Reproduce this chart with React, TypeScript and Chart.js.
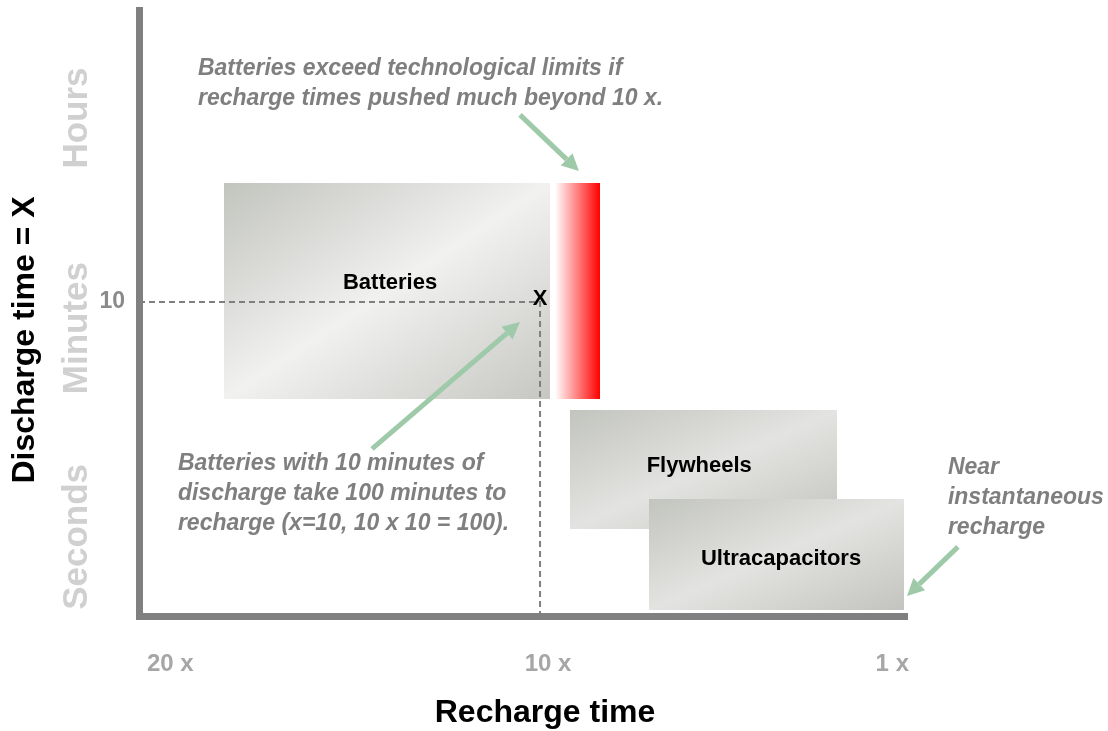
import { useEffect, useRef } from "react";
import { Chart, registerables } from "chart.js";

Chart.register(...registerables);

const FONT = "'Liberation Sans', Arial, Helvetica, sans-serif";

// ---- axes (x = recharge time multiple, shown reversed; y = discharge time position) ----
const xTickValues = [1, 10, 20];
const xTickLabels = ["1 x", "10 x", "20 x"];
const yTickValues = [10];
const yTickLabels = ["10"];
const yBandLabels = ["Hours", "Minutes", "Seconds"];
const yBandValues = [15.86, 9.17, 2.52];

// ---- technology regions ----
const techNames = ["Batteries", "Flywheels", "Ultracapacitors"];
const techRechargeStart = [17.88, 9.25, 7.28];
const techRechargeEnd = [9.75, 2.59, 0.92];
const techDischargeLow = [6.91, 2.77, 0.19];
const techDischargeHigh = [13.79, 6.56, 3.73];
const techLabelX = [13.74, 6.03, 3.99];
const techLabelY = [10.61, 4.78, 1.82];

// ---- battery technological limit band ----
const limitRecharge = [9.73, 8.5];
const limitDischarge = [6.91, 13.79];

// ---- worked example (x = 10) ----
const exampleRecharge = [20, 10, 10];
const exampleDischarge = [10, 10, 0];
const exampleMarkLabel = "X";
const exampleMarkX = 10;
const exampleMarkY = 10.1;

// ---- notes ----
const noteLines = [
  ["Batteries exceed technological limits if", "recharge times pushed much beyond 10 x."],
  ["Batteries with 10 minutes of", "discharge take 100 minutes to", "recharge (x=10, 10 x 10 = 100)."],
  ["Near", "instantaneous", "recharge"],
];
const noteX = [18.53, 19.03, -0.17];
const noteY = [17.42, 4.84, 4.71];

// ---- arrows ----
const arrowFromX = [10.5, 14.19, -0.42];
const arrowFromY = [15.96, 5.32, 2.2];
const arrowToX = [9.03, 10.5, 0.85];
const arrowToY = [14.17, 9.36, 0.64];

const xTitle = "Recharge time";
const yTitle = "Discharge time = X";

// ---- styles ----
const techStops = [
  [[0, "#c2c4be"], [0.5, "#f1f1f0"], [1, "#c6c7c2"]],
  [[0, "#c2c4be"], [0.5, "#e3e3e1"], [1, "#c3c4bf"]],
  [[0, "#c2c4be"], [0.5, "#e3e3e1"], [1, "#c3c4bf"]],
];
const ARROW_COLOR = "#9ecaa9";
const NOTE_COLOR = "#7f7f7f";
const BAND_COLOR = "#d0d0d0";

function diagGradient(ctx: CanvasRenderingContext2D, x0: number, y0: number, x1: number, y1: number, stops: any[]) {
  const w = x1 - x0;
  const h = y1 - y0;
  const cx = (x0 + x1) / 2;
  const cy = (y0 + y1) / 2;
  const k = (w * h) / (w * w + h * h);
  const g = ctx.createLinearGradient(cx - h * k, cy - w * k, cx + h * k, cy + w * k);
  stops.forEach(([o, c]) => g.addColorStop(o, c));
  return g;
}

function drawArrow(ctx: CanvasRenderingContext2D, x0: number, y0: number, x1: number, y1: number) {
  const a = Math.atan2(y1 - y0, x1 - x0);
  const headLen = 17;
  const headW = 8.5;
  const bx = x1 - headLen * Math.cos(a);
  const by = y1 - headLen * Math.sin(a);
  ctx.save();
  ctx.strokeStyle = ARROW_COLOR;
  ctx.fillStyle = ARROW_COLOR;
  ctx.lineWidth = 5;
  ctx.beginPath();
  ctx.moveTo(x0, y0);
  ctx.lineTo(bx, by);
  ctx.stroke();
  ctx.beginPath();
  ctx.moveTo(x1, y1);
  ctx.lineTo(bx + headW * Math.sin(a), by - headW * Math.cos(a));
  ctx.lineTo(bx - headW * Math.sin(a), by + headW * Math.cos(a));
  ctx.closePath();
  ctx.fill();
  ctx.restore();
}

const diagramPlugin = {
  id: "diagram",
  beforeDatasetsDraw(chart: any) {
    const { ctx, scales } = chart;
    const xs = scales.x;
    const ys = scales.y;
    ctx.save();
    techNames.forEach((name, i) => {
      const x0 = Math.round(xs.getPixelForValue(techRechargeStart[i]));
      const x1 = Math.round(xs.getPixelForValue(techRechargeEnd[i]));
      const y0 = Math.round(ys.getPixelForValue(techDischargeHigh[i]));
      const y1 = Math.round(ys.getPixelForValue(techDischargeLow[i]));
      ctx.fillStyle = diagGradient(ctx, x0, y0, x1, y1, techStops[i]);
      ctx.fillRect(x0, y0, x1 - x0, y1 - y0);
      ctx.fillStyle = "#000";
      ctx.font = `bold 22px ${FONT}`;
      ctx.textAlign = "center";
      ctx.textBaseline = "middle";
      ctx.fillText(name, xs.getPixelForValue(techLabelX[i]), ys.getPixelForValue(techLabelY[i]));
      if (i === 0) {
        const lx0 = Math.round(xs.getPixelForValue(limitRecharge[0]));
        const lx1 = Math.round(xs.getPixelForValue(limitRecharge[1]));
        const ly0 = Math.round(ys.getPixelForValue(limitDischarge[1]));
        const ly1 = Math.round(ys.getPixelForValue(limitDischarge[0]));
        const g = ctx.createLinearGradient(lx0, 0, lx1, 0);
        g.addColorStop(0, "#ffffff");
        g.addColorStop(0.08, "#ffffff");
        g.addColorStop(1, "#ff0000");
        ctx.fillStyle = g;
        ctx.fillRect(lx0, ly0, lx1 - lx0, ly1 - ly0);
      }
    });
    ctx.restore();
  },
  afterDatasetsDraw(chart: any) {
    const { ctx, scales, chartArea } = chart;
    const xs = scales.x;
    const ys = scales.y;
    ctx.save();
    // example mark
    ctx.fillStyle = "#000";
    ctx.font = `bold 22px ${FONT}`;
    ctx.textAlign = "center";
    ctx.textBaseline = "middle";
    ctx.fillText(exampleMarkLabel, xs.getPixelForValue(exampleMarkX), ys.getPixelForValue(exampleMarkY));

    // notes
    ctx.fillStyle = NOTE_COLOR;
    ctx.font = `italic bold 23px ${FONT}`;
    ctx.textAlign = "left";
    noteLines.forEach((lines, i) => {
      const px = xs.getPixelForValue(noteX[i]);
      const py = ys.getPixelForValue(noteY[i]);
      lines.forEach((t, j) => ctx.fillText(t, px, py + j * 30));
    });

    // arrows
    arrowFromX.forEach((_, i) => {
      drawArrow(
        ctx,
        xs.getPixelForValue(arrowFromX[i]),
        ys.getPixelForValue(arrowFromY[i]),
        xs.getPixelForValue(arrowToX[i]),
        ys.getPixelForValue(arrowToY[i])
      );
    });

    // band labels on y axis
    ctx.fillStyle = BAND_COLOR;
    ctx.font = `bold 35px ${FONT}`;
    ctx.textAlign = "center";
    yBandLabels.forEach((t, i) => {
      ctx.save();
      ctx.translate(chartArea.left - 62, ys.getPixelForValue(yBandValues[i]));
      ctx.rotate(-Math.PI / 2);
      ctx.fillText(t, 0, 0);
      ctx.restore();
    });

    // axis titles
    ctx.fillStyle = "#000";
    ctx.font = `bold 32px ${FONT}`;
    ctx.save();
    ctx.translate(chartArea.left - 114, (chartArea.top + chartArea.bottom) / 2 + 27);
    ctx.rotate(-Math.PI / 2);
    ctx.fillText(yTitle, 0, 0);
    ctx.restore();
    ctx.fillText(xTitle, (chartArea.left + chartArea.right) / 2 + 22, chartArea.bottom + 97);
    ctx.restore();
  },
};

export default function App() {
  const ref = useRef<HTMLCanvasElement | null>(null);
  useEffect(() => {
    if (!ref.current) return;
    const chart = new Chart(ref.current, {
      type: "line",
      data: {
        datasets: [
          {
            data: exampleRecharge.map((x, i) => ({ x, y: exampleDischarge[i] })),
            borderColor: "#7f7f7f",
            borderWidth: 2,
            borderDash: [6, 4],
            pointRadius: 0,
            fill: false,
            tension: 0,
          },
        ],
      },
      options: {
        responsive: false,
        animation: false,
        events: [],
        layout: { padding: { top: 10, right: 201, left: 0, bottom: 0 } },
        plugins: { legend: { display: false }, tooltip: { enabled: false } },
        scales: {
          x: {
            type: "linear",
            reverse: true,
            min: 0.85,
            max: 20,
            afterBuildTicks: (s: any) => {
              s.ticks = xTickValues.map((v) => ({ value: v }));
            },
            ticks: {
              callback: (v: any) => xTickLabels[xTickValues.indexOf(Number(v))],
              font: { family: FONT, size: 24, weight: "bold" },
              color: "#a6a6a6",
              padding: 34,
              align: "inner",
              labelOffset: 8,
              maxRotation: 0,
              autoSkip: false,
            },
            grid: { drawOnChartArea: false, drawTicks: false },
            border: { color: "#808080", width: 7 },
            afterFit: (s: any) => {
              s.height = 115;
              s.paddingLeft = 0;
              s.paddingRight = 0;
            },
          },
          y: {
            type: "linear",
            min: 0,
            max: 19.3,
            afterBuildTicks: (s: any) => {
              s.ticks = yTickValues.map((v) => ({ value: v }));
            },
            ticks: {
              callback: (v: any) => yTickLabels[yTickValues.indexOf(Number(v))],
              font: { family: FONT, size: 23, weight: "bold" },
              color: "#8a8a8a",
              padding: 14,
            },
            grid: { drawOnChartArea: false, drawTicks: false },
            border: { color: "#808080", width: 7 },
            afterFit: (s: any) => {
              s.width = 139;
              s.paddingTop = 0;
              s.paddingBottom = 0;
            },
          },
        },
      } as any,
      plugins: [diagramPlugin],
    });
    return () => chart.destroy();
  }, []);
  return (
    <div style={{ position: "absolute", left: 0, top: 0, width: 1108, height: 731, background: "#fff" }}>
      <canvas ref={ref} width={1108} height={731} style={{ display: "block" }} />
    </div>
  );
}
